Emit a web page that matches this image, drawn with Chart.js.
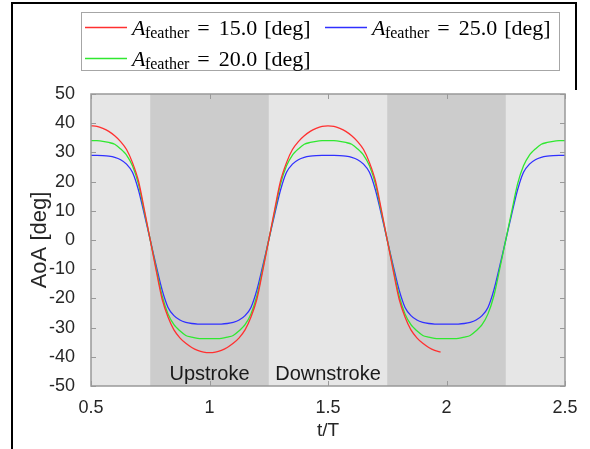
<!DOCTYPE html>
<html>
<head>
<meta charset="utf-8">
<script src="https://cdn.jsdelivr.net/npm/chart.js@4"></script>
<style>
  html, body { margin: 0; padding: 0; background: #fff; }
  canvas { display: block; }
</style>
</head>
<body>
<canvas id="graficoAoA" width="590" height="449"></canvas>
<script>
// ---- DATOS ----
const amplitudes = [15.0, 20.0, 25.0];
const colores = ["#ff3030", "#30e830", "#3030ff"];

const tiempos = [
  0.5, 0.525, 0.55, 0.575, 0.6, 0.625, 0.65, 0.675, 0.7, 0.725, 0.75,
  0.775, 0.8, 0.825, 0.85, 0.875, 0.9, 0.925, 0.95, 0.975, 1.0,
  1.025, 1.05, 1.075, 1.1, 1.125, 1.15, 1.175, 1.2, 1.225, 1.25,
  1.275, 1.3, 1.325, 1.35, 1.375, 1.4, 1.425, 1.45, 1.475, 1.5,
  1.525, 1.55, 1.575, 1.6, 1.625, 1.65, 1.675, 1.7, 1.725, 1.75,
  1.775, 1.8, 1.825, 1.85, 1.875, 1.9, 1.925, 1.95, 1.975, 2.0,
  2.025, 2.05, 2.075, 2.1, 2.125, 2.15, 2.175, 2.2, 2.225, 2.25,
  2.275, 2.3, 2.325, 2.35, 2.375, 2.4, 2.425, 2.45, 2.475, 2.5
];

// A = 15 deg (la simulación se corta antes de t/T = 2)
const aoa15 = [
  39.1, 38.9, 38.2, 37.2, 35.7, 33.7, 31.0, 26.5, 20.3, 10.4, 0,
  -10.4, -20.2, -26.4, -30.8, -33.5, -35.4, -36.8, -37.8, -38.4, -38.6,
  -38.4, -37.8, -36.8, -35.4, -33.5, -30.8, -26.4, -20.2, -10.4, 0,
  10.4, 20.3, 26.5, 31.0, 33.7, 35.7, 37.2, 38.2, 38.9, 39.1,
  38.9, 38.2, 37.2, 35.7, 33.7, 31.0, 26.5, 20.3, 10.4, 0,
  -10.4, -20.2, -26.4, -30.8, -33.5, -35.4, -36.8, -37.8, -38.4, null,
  null, null, null, null, null, null, null, null, null, null,
  null, null, null, null, null, null, null, null, null, null
];

const aoa20 = [
  34.0, 34.0, 33.8, 33.4, 32.8, 31.2, 29.1, 25.4, 19.2, 9.7, 0,
  -9.7, -19.1, -25.3, -29.0, -31.1, -32.7, -33.3, -33.7, -33.8, -33.8,
  -33.8, -33.7, -33.3, -32.7, -31.1, -29.0, -25.3, -19.1, -9.7, 0,
  9.7, 19.2, 25.4, 29.1, 31.2, 32.8, 33.4, 33.8, 34.0, 34.0,
  34.0, 33.8, 33.4, 32.8, 31.2, 29.1, 25.4, 19.2, 9.7, 0,
  -9.7, -19.1, -25.3, -29.0, -31.1, -32.7, -33.3, -33.7, -33.8, -33.8,
  -33.8, -33.7, -33.3, -32.7, -31.1, -29.0, -25.3, -19.1, -9.7, 0,
  9.7, 19.2, 25.4, 29.1, 31.2, 32.8, 33.4, 33.8, 34.0, 34.0
];

const aoa25 = [
  29.0, 29.0, 28.9, 28.7, 28.3, 27.5, 26.0, 23.2, 17.2, 8.8, 0,
  -8.8, -17.1, -23.1, -25.9, -27.4, -28.2, -28.6, -28.8, -28.8, -28.8,
  -28.8, -28.8, -28.6, -28.2, -27.4, -25.9, -23.1, -17.1, -8.8, 0,
  8.8, 17.2, 23.2, 26.0, 27.5, 28.3, 28.7, 28.9, 29.0, 29.0,
  29.0, 28.9, 28.7, 28.3, 27.5, 26.0, 23.2, 17.2, 8.8, 0,
  -8.8, -17.1, -23.1, -25.9, -27.4, -28.2, -28.6, -28.8, -28.8, -28.8,
  -28.8, -28.8, -28.6, -28.2, -27.4, -25.9, -23.1, -17.1, -8.8, 0,
  8.8, 17.2, 23.2, 26.0, 27.5, 28.3, 28.7, 28.9, 29.0, 29.0
];

const series = [aoa15, aoa20, aoa25];

// fases del aleteo
const upstrokeInicio = [0.75, 1.75];
const upstrokeFin = [1.25, 2.25];
const fasesTexto = ["Upstroke", "Downstroke"];
const fasesT = [1.0, 1.5];
const fasesAoA = -48;

const ticksX = [0.5, 1, 1.5, 2, 2.5];

const SANS = '"Liberation Sans", Arial, Helvetica, sans-serif';
const SERIF = '"Liberation Serif", "Times New Roman", serif';

// ---- PLUGINS ----
const fondo = {
  id: "fondo",
  beforeDraw(chart) {
    const ctx = chart.ctx;
    ctx.save();
    ctx.fillStyle = "#fff";
    ctx.fillRect(0, 0, chart.width, chart.height);
    // marco negro de la figura
    ctx.fillStyle = "#000";
    ctx.fillRect(11, 2, 2, chart.height - 2);
    ctx.fillRect(11, 2, 566, 2);
    ctx.fillRect(575, 2, 2, 88);
    ctx.restore();
  }
};

const bandas = {
  id: "bandas",
  beforeDatasetsDraw(chart) {
    const { ctx, chartArea: a, scales: { x } } = chart;
    ctx.save();
    ctx.fillStyle = "#e6e6e6";
    ctx.fillRect(a.left, a.top, a.right - a.left, a.bottom - a.top);
    ctx.fillStyle = "#cccccc";
    upstrokeInicio.forEach((t0, i) => {
      const x0 = x.getPixelForValue(t0);
      const x1 = x.getPixelForValue(upstrokeFin[i]);
      ctx.fillRect(x0, a.top, x1 - x0, a.bottom - a.top);
    });
    ctx.restore();
  }
};

const ejes = {
  id: "ejes",
  afterDatasetsDraw(chart) {
    const { ctx, chartArea: a, scales: { x, y } } = chart;
    ctx.save();
    // textos de fase
    ctx.fillStyle = "#1a1a1a";
    ctx.font = "20px " + SANS;
    ctx.textAlign = "center";
    ctx.textBaseline = "alphabetic";
    fasesTexto.forEach((txt, i) => {
      ctx.fillText(txt, x.getPixelForValue(fasesT[i]), y.getPixelForValue(fasesAoA));
    });
    // caja y ticks hacia dentro
    ctx.strokeStyle = "#999";
    ctx.lineWidth = 1.5;
    ctx.strokeRect(a.left, a.top, a.right - a.left, a.bottom - a.top);
    ctx.lineWidth = 1;
    ctx.beginPath();
    y.ticks.forEach(t => {
      const py = Math.round(y.getPixelForValue(t.value)) + 0.5;
      ctx.moveTo(a.left, py); ctx.lineTo(a.left + 5, py);
      ctx.moveTo(a.right, py); ctx.lineTo(a.right - 5, py);
    });
    x.ticks.forEach(t => {
      const px = Math.round(x.getPixelForValue(t.value)) + 0.5;
      ctx.moveTo(px, a.bottom); ctx.lineTo(px, a.bottom - 5);
      ctx.moveTo(px, a.top); ctx.lineTo(px, a.top + 5);
    });
    ctx.stroke();
    ctx.restore();
  }
};

const leyenda = {
  id: "leyenda",
  afterDraw(chart) {
    const ctx = chart.ctx;
    const caja = { x: 81, y: 12, w: 478, h: 58 };
    ctx.save();
    ctx.fillStyle = "#fff";
    ctx.fillRect(caja.x, caja.y, caja.w, caja.h);
    ctx.strokeStyle = "#a6a6a6";
    ctx.lineWidth = 1;
    ctx.strokeRect(caja.x + 0.5, caja.y + 0.5, caja.w, caja.h);
    chart.data.datasets.forEach((ds, i) => {
      const col = Math.floor(i / 2), fila = i % 2;
      const x0 = caja.x + 4 + col * 240;
      const base = caja.y + 23 + fila * 31;
      ctx.strokeStyle = ds.borderColor;
      ctx.lineWidth = 1.3;
      ctx.beginPath();
      ctx.moveTo(x0, base - 7.5);
      ctx.lineTo(x0 + 42, base - 7.5);
      ctx.stroke();

      let px = x0 + 47;
      ctx.fillStyle = "#000";
      ctx.textAlign = "left";
      ctx.textBaseline = "alphabetic";
      ctx.font = "italic 22px " + SERIF;
      ctx.fillText("A", px, base);
      px += ctx.measureText("A").width - 0.5;
      ctx.font = "16px " + SERIF;
      ctx.fillText("feather", px, base + 2.5);
      px += ctx.measureText("feather").width + 8;
      ctx.font = "22px " + SERIF;
      ctx.fillText("=", px, base);
      px += ctx.measureText("=").width + 9;
      const num = amplitudes[i].toFixed(1);
      ctx.fillText(num, px, base);
      px += ctx.measureText(num).width + 7;
      ctx.fillText("[deg]", px, base);
    });
    ctx.restore();
  }
};

// ---- CHART.JS CONFIG ----
const ctx = document.getElementById("graficoAoA").getContext("2d");
const graficoAoA = new Chart(ctx, {
  type: "line",
  data: {
    datasets: series.map((s, i) => ({
      label: `A_feather = ${amplitudes[i].toFixed(1)} [deg]`,
      data: tiempos.map((t, k) => ({ x: t, y: s[k] })),
      borderColor: colores[i],
      borderWidth: 1.3,
      pointRadius: 0,
      fill: false,
      tension: 0.3,
      spanGaps: false
    }))
  },
  options: {
    responsive: false,
    animation: false,
    layout: { padding: { top: 94, right: 25, left: 0, bottom: 0 } },
    plugins: {
      legend: { display: false },
      tooltip: { enabled: false }
    },
    scales: {
      x: {
        type: "linear",
        min: 0.5,
        max: 2.5,
        afterBuildTicks: s => { s.ticks = ticksX.map(v => ({ value: v })); },
        afterFit: s => { s.height = 63; },
        grid: { display: false },
        border: { display: false },
        ticks: {
          autoSkip: false,
          maxRotation: 0,
          padding: 3,
          color: "#262626",
          font: { family: SANS, size: 18 },
          callback: v => String(v)
        },
        title: {
          display: true,
          text: "t/T",
          color: "#262626",
          font: { family: SANS, size: 19 },
          padding: { top: 0, bottom: 7 }
        }
      },
      y: {
        min: -50,
        max: 50,
        afterFit: s => { s.width = 91; },
        grid: { display: false },
        border: { display: false },
        ticks: {
          stepSize: 10,
          padding: 8,
          color: "#262626",
          font: { family: SANS, size: 18 }
        },
        title: {
          display: true,
          text: "AoA [deg]",
          color: "#262626",
          font: { family: SANS, size: 22 },
          padding: { top: 27, bottom: 0 }
        }
      }
    }
  },
  plugins: [fondo, bandas, ejes, leyenda]
});
</script>
</body>
</html>
